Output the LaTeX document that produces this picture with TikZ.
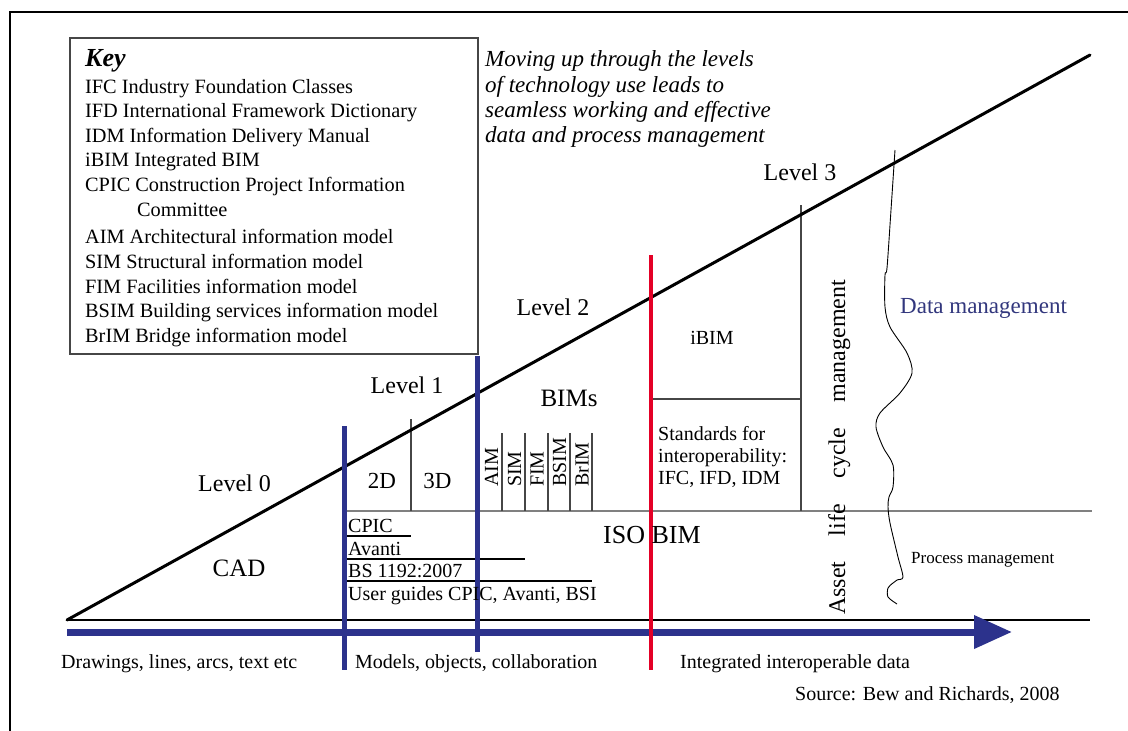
\documentclass[tikz,border=0pt]{standalone}
\usepackage{fontspec}
\setmainfont{Liberation Serif}
\usetikzlibrary{arrows.meta}
\definecolor{bewblue}{RGB}{44,50,140}
\definecolor{bewred}{RGB}{228,0,38}
\definecolor{datablue}{RGB}{50,55,125}
\definecolor{rulegray}{RGB}{70,70,70}
\newcommand{\fs}[1]{\fontsize{#1}{#1}\selectfont}
\begin{document}
\begin{tikzpicture}[x=1pt,y=-1pt,
  txt/.style={inner sep=0pt, anchor=base},
  txtl/.style={inner sep=0pt, anchor=base west},
  vtxt/.style={inner sep=0pt, anchor=base west, rotate=90},
  keyline/.style={txtl, font=\fs{20.3}},
  levellabel/.style={txt, font=\fs{24}},
  bottomlabel/.style={txtl, font=\fs{20}},
  rulethin/.style={line width=1.2pt, draw=rulegray},
  bluebar/.style={line width=5pt, draw=bewblue},
  redbar/.style={line width=4.5pt, draw=bewred}
]
\useasboundingbox (0,0) rectangle (1128,731);
% outer frame
\coordinate (fbl) at (10,731); \coordinate (ftl) at (10,12); \coordinate (ftr) at (1128,12);
\draw[line width=1.5pt] (fbl) -- (ftl) -- (ftr);

% key box
\node[draw=rulegray, line width=1.5pt, minimum width=408pt, minimum height=316pt, inner sep=0pt, anchor=north west] (keybox) at (69,37) {};
\node[txtl, font=\fs{26}\bfseries\itshape] (key) at (85,66) {Key};
\node[keyline] (k1) at (85,93.5) {IFC Industry Foundation Classes};
\node[keyline] (k2) at (85,117.5) {IFD International Framework Dictionary};
\node[keyline] (k3) at (85,142) {IDM Information Delivery Manual};
\node[keyline] (k4) at (85,166.5) {iBIM Integrated BIM};
\node[keyline] (k5) at (85,191.5) {CPIC Construction Project Information};
\node[keyline] (k5b) at (137,216.5) {Committee};
\node[keyline] (k6) at (85,243.5) {AIM Architectural information model};
\node[keyline] (k7) at (85,268) {SIM Structural information model};
\node[keyline] (k8) at (85,293) {FIM Facilities information model};
\node[keyline] (k9) at (85,317.5) {BSIM Building services information model};
\node[keyline] (k10) at (85,342) {BrIM Bridge information model};

% italic statement
\node[txtl, font=\fs{23}\itshape] (m1) at (485,66) {Moving up through the levels};
\node[txtl, font=\fs{23}\itshape] (m2) at (485,92) {of technology use leads to};
\node[txtl, font=\fs{23}\itshape] (m3) at (485,117) {seamless working and effective};
\node[txtl, font=\fs{23}\itshape] (m4) at (485,142) {data and process management};

% main coordinates
\coordinate (origin) at (67,620);
\coordinate (apex) at (1090,55);
\coordinate (baseend) at (1090,620);
\coordinate (arrstart) at (67,632);
\coordinate (arrtip) at (1012,632);

% thin rules
\coordinate (h1a) at (344,511); \coordinate (h1b) at (1092,511);
\draw[rulethin, draw=gray] (h1a) -- (h1b);
\coordinate (d1a) at (411,419); \coordinate (d1b) at (411,511);
\draw[rulethin] (d1a) -- (d1b);
\foreach \xx in {502,525,548,570,592} {
  \coordinate (bt\xx) at (\xx,433); \coordinate (bb\xx) at (\xx,511);
  \draw[rulethin] (bt\xx) -- (bb\xx);
}
\coordinate (ib1) at (651,399); \coordinate (ib2) at (801,399);
\draw[rulethin] (ib1) -- (ib2);
\coordinate (v3a) at (801,205); \coordinate (v3b) at (801,511);
\draw[rulethin] (v3a) -- (v3b);
\coordinate (c1a) at (346,536); \coordinate (c1b) at (411,536);
\coordinate (c2a) at (346,559); \coordinate (c2b) at (525,559);
\coordinate (c3a) at (346,581); \coordinate (c3b) at (592,581);
\draw[rulethin, draw=black] (c1a) -- (c1b);
\draw[rulethin, draw=black] (c2a) -- (c2b);
\draw[rulethin, draw=black] (c3a) -- (c3b);

% wavy separator
\draw[line width=0.9pt] plot[smooth, tension=0.5] coordinates {
 (895,150) (891,210) (887,268) (885,275) (885,307) (890,327) (907,353) (912,373)
 (900,393) (880,413) (876,427) (883,447) (893,465) (893,487) (889,497) (888,507)
 (890,523) (898,557) (903,577) (897,580) (893,583) (888,588) (888,597) (897,604)};

% triangle and base
\draw[line width=2.5pt] (origin) -- (baseend);
\draw[line width=3pt, line cap=round] (origin) -- (apex);

% arrow
\draw[draw=bewblue, line width=7pt, -{Triangle[length=38pt,width=32pt]}] (arrstart) -- (arrtip);

% bars
\coordinate (b1t) at (344,426); \coordinate (b1b) at (344,670);
\coordinate (b2t) at (477,356); \coordinate (b2b) at (477,652);
\coordinate (rt) at (651,255); \coordinate (rb) at (651,670);
\draw[bluebar] (b1t) -- (b1b);
\draw[bluebar] (b2t) -- (b2b);
\draw[redbar] (rt) -- (rb);

% level labels
\node[levellabel] (l0) at (234.5,491) {Level 0};
\node[txt, font=\fs{25}] (cad) at (239,576) {CAD};
\node[levellabel] (l1) at (407,393) {Level 1};
\node[txt, font=\fs{23}] (t2d) at (382,488) {2D};
\node[txt, font=\fs{23}] (t3d) at (437.5,488) {3D};
\node[levellabel] (l2) at (553,315) {Level 2};
\node[txt, font=\fs{25}] (bims) at (569,406) {BIMs};
\node[levellabel] (l3) at (800,180) {Level 3};

% BIM columns
\node[vtxt, font=\fs{20}] (aim) at (498,487) {AIM};
\node[vtxt, font=\fs{20}] (sim) at (521,487) {SIM};
\node[vtxt, font=\fs{20}] (fim) at (543.5,487) {FIM};
\node[vtxt, font=\fs{20}] (bsim) at (566,487) {BSIM};
\node[vtxt, font=\fs{20}] (brim) at (588.5,487) {BrIM};

% CPIC stack
\node[txtl, font=\fs{20}] (cpic) at (348,532) {CPIC};
\node[txtl, font=\fs{20}] (avanti) at (348,555) {Avanti};
\node[txtl, font=\fs{20}] (bs) at (348,577) {BS 1192:2007};
\node[txtl, font=\fs{20}] (ug) at (348,600) {User guides CPIC, Avanti, BSI};

% level 2/3 contents
\node[txt, font=\fs{20}] (ibim) at (712,344) {iBIM};
\node[txtl, font=\fs{20}] (st1) at (658,440) {Standards for};
\node[txtl, font=\fs{20}] (st2) at (658,462) {interoperability:};
\node[txtl, font=\fs{20}] (st3) at (658,484) {IFC, IFD, IDM};
\node[txtl, font=\fs{26}] (iso) at (603,543) {ISO BIM};
\node[vtxt, font=\fs{24}] (asset) at (845,615) {\makebox[335pt][s]{Asset life cycle management}};
\node[txtl, font=\fs{23}, text=datablue] (datam) at (900,313) {Data management};
\node[txtl, font=\fs{17}] (procm) at (911,563) {Process management};

% bottom labels
\node[bottomlabel] (bl1) at (61,668) {Drawings, lines, arcs, text etc};
\node[bottomlabel] (bl2) at (355,668) {Models, objects, collaboration};
\node[bottomlabel] (bl3) at (680,668) {Integrated interoperable data};
\node[bottomlabel] (src) at (795,700) {Source: Bew and Richards, 2008};
\end{tikzpicture}
\end{document}
